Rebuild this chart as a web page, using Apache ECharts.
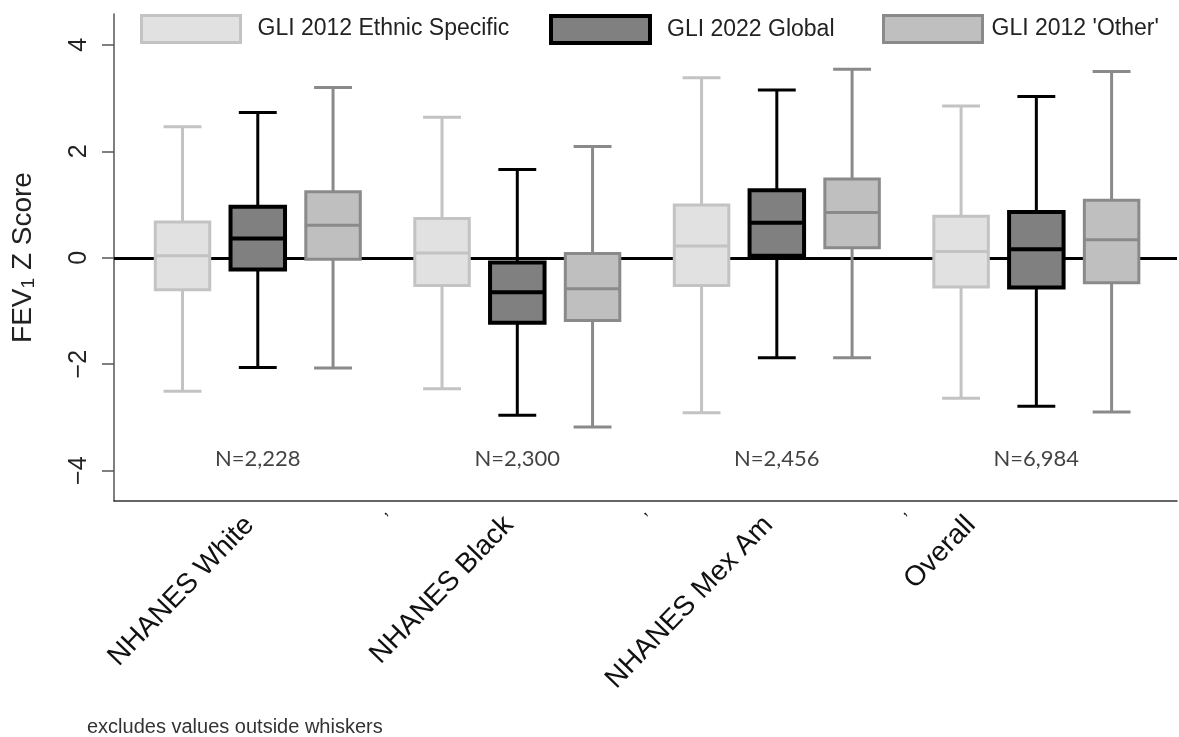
<!DOCTYPE html>
<html>
<head>
<meta charset="utf-8">
<script src="https://cdn.jsdelivr.net/npm/echarts@6/dist/echarts.min.js"></script>
<style>
  html, body { margin: 0; padding: 0; background: #fff; }
  #chart { width: 1179px; height: 737px; }
</style>
</head>
<body>
<div id="chart"></div>
<script>
const categories = ['NHANES White', 'NHANES Black', 'NHANES Mex Am', 'Overall'];
const sampleSizes = ['N=2,228', 'N=2,300', 'N=2,456', 'N=6,984'];
const seriesNames = ['GLI 2012 Ethnic Specific', 'GLI 2022 Global', "GLI 2012 'Other'"];
// each row: lower whisker, Q1, median, Q3, upper whisker
const ethnicSpecific = [
  [-2.51, -0.60, 0.04, 0.67, 2.46],
  [-2.46, -0.52, 0.09, 0.74, 2.64],
  [-2.91, -0.52, 0.22, 0.99, 3.38],
  [-2.64, -0.55, 0.12, 0.78, 2.85]
];
const global2022 = [
  [-2.06, -0.22, 0.36, 0.96, 2.73],
  [-2.96, -1.22, -0.65, -0.09, 1.66],
  [-1.88, 0.04, 0.66, 1.27, 3.15],
  [-2.79, -0.56, 0.16, 0.86, 3.03]
];
const other2012 = [
  [-2.07, -0.03, 0.61, 1.24, 3.20],
  [-3.18, -1.18, -0.58, 0.08, 2.09],
  [-1.88, 0.19, 0.85, 1.48, 3.54],
  [-2.90, -0.47, 0.34, 1.08, 3.50]
];
const yTicks = [-4, -2, 0, 2, 4];
// where the category labels and the stray separators sit on the x axis
const labelPositions = [0, 1, 2, 2.78];
const separators = [0.5, 1.5, 2.5];

const nLabelY = -3.77;
const boxStyles = [
  { fill: '#e1e1e1', stroke: '#c3c3c3', whisker: '#c3c3c3', lineWidth: 3 },
  { fill: '#808080', stroke: '#000000', whisker: '#000000', lineWidth: 4 },
  { fill: '#bfbfbf', stroke: '#8a8a8a', whisker: '#8a8a8a', lineWidth: 3 }
];
const boxOffsets = [-0.29, 0, 0.29];
const legendLeft = [140, 549, 882];
const legendPad = [12, 12, 4];
const font = 'Liberation Sans';

function makeRenderItem(k) {
  const st = boxStyles[k];
  return function (params, api) {
    const x = api.value(0);
    const band = api.size([1, 0])[0];
    const cx = api.coord([x, 0])[0] + boxOffsets[k] * band;
    const y = i => api.coord([x, api.value(i)])[1];
    const lo = y(1), q1 = y(2), med = y(3), q3 = y(4), hi = y(5);
    const hw = band * 0.105, cw = band * 0.073;
    const wl = { stroke: st.whisker, lineWidth: 3 };
    return {
      type: 'group',
      children: [
        { type: 'line', shape: { x1: cx, y1: q3, x2: cx, y2: hi }, style: wl },
        { type: 'line', shape: { x1: cx, y1: q1, x2: cx, y2: lo }, style: wl },
        { type: 'line', shape: { x1: cx - cw, y1: hi, x2: cx + cw, y2: hi }, style: wl },
        { type: 'line', shape: { x1: cx - cw, y1: lo, x2: cx + cw, y2: lo }, style: wl },
        { type: 'rect', shape: { x: cx - hw, y: q3, width: 2 * hw, height: q1 - q3 },
          style: { fill: st.fill, stroke: st.stroke, lineWidth: st.lineWidth } },
        { type: 'line', shape: { x1: cx - hw, y1: med, x2: cx + hw, y2: med },
          style: { stroke: st.stroke, lineWidth: st.lineWidth } }
      ]
    };
  };
}

const allData = [ethnicSpecific, global2022, other2012];
const series = allData.map((rows, k) => ({
  name: seriesNames[k],
  type: 'custom',
  z: 2,
  renderItem: makeRenderItem(k),
  encode: { x: 0, y: [1, 2, 3, 4, 5] },
  data: rows.map((r, i) => [i].concat(r))
}));
series[0].markLine = {
  silent: true, symbol: 'none', z: 1,
  label: { show: false },
  lineStyle: { color: '#000', width: 3, type: 'solid' },
  data: [{ yAxis: 0 }]
};
series.push({
  type: 'scatter',
  silent: true,
  symbolSize: 1,
  itemStyle: { color: 'transparent' },
  data: sampleSizes.map((s, i) => [i, nLabelY]),
  label: {
    show: true, position: 'inside',
    formatter: p => sampleSizes[p.dataIndex],
    fontSize: 22, fontFamily: 'Lato', color: '#111'
  }
});

const chart = echarts.init(document.getElementById('chart'));
chart.setOption({
  animation: false,
  backgroundColor: '#fff',
  title: {
    text: 'excludes values outside whiskers',
    left: 82, top: 712,
    textStyle: { fontSize: 20, fontWeight: 'normal', color: '#333', fontFamily: font }
  },
  legend: seriesNames.map((name, k) => ({
    data: [{
      name, icon: 'rect',
      itemStyle: { color: boxStyles[k].fill, borderColor: boxStyles[k].stroke, borderWidth: boxStyles[k].lineWidth }
    }],
    left: legendLeft[k], top: 14, padding: 0,
    itemWidth: 99, itemHeight: 27,
    selectedMode: false,
    textStyle: { fontSize: 23, color: '#222', fontFamily: font, padding: [0, 0, 0, legendPad[k]] }
  })),
  grid: { left: 114, right: 2, top: 14, bottom: 236 },
  xAxis: {
    type: 'value', min: -0.554, max: 3.542,
    axisLine: { show: true, onZero: false, lineStyle: { color: '#333', width: 1.5 } },
    axisTick: { show: false },
    splitLine: { show: false },
    axisLabel: {
      customValues: labelPositions.concat(separators),
      rotate: 46, margin: 11,
      formatter: v => {
        const i = labelPositions.indexOf(v);
        return i >= 0 ? '{c|' + categories[i] + '}' : '{k|,}';
      },
      rich: {
        c: { fontSize: 28, color: '#111', fontFamily: font, padding: [0, 12, 0, 0] },
        k: { fontSize: 18, color: '#111', fontFamily: font, padding: [0, 0, 8, 0] }
      }
    }
  },
  yAxis: {
    type: 'value', min: -4.57, max: 4.58,
    axisLine: { show: true, onZero: false, lineStyle: { color: '#555', width: 1.5 } },
    axisTick: { show: true, customValues: yTicks, length: 12, lineStyle: { color: '#555', width: 1.5 } },
    axisLabel: {
      customValues: yTicks, rotate: 90, margin: 22,
      formatter: v => v < 0 ? '\u2212' + Math.abs(v) : String(v),
      fontSize: 25, color: '#222', fontFamily: font
    },
    splitLine: { show: false },
    name: '{a|FEV}{b|1}{a| Z Score}',
    nameLocation: 'middle', nameGap: 76,
    nameTextStyle: {
      rich: {
        a: { fontSize: 28, color: '#222', fontFamily: font },
        b: { fontSize: 19, color: '#222', fontFamily: font, verticalAlign: 'bottom', padding: [10, 0, 0, 0] }
      }
    }
  },
  series: series
});
</script>
</body>
</html>
